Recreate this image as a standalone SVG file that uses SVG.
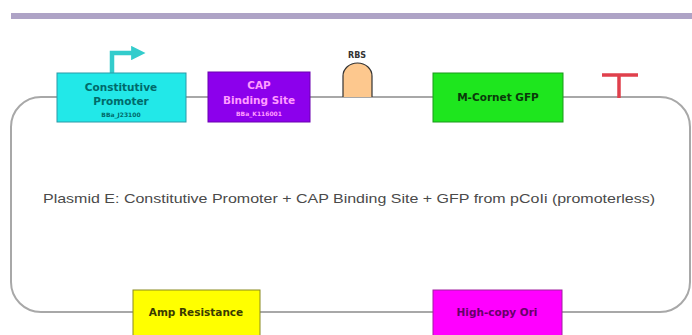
<svg xmlns="http://www.w3.org/2000/svg" width="692" height="335" viewBox="0 0 692 335">
<defs>
<style>
.box{stroke-width:1}
.lbl{font-family:"DejaVu Sans",sans-serif;font-weight:bold;font-size:10.5px;text-anchor:middle}
.sm{font-family:"DejaVu Sans",sans-serif;font-weight:bold;font-size:6px;text-anchor:middle}
.cap{font-family:"Liberation Sans",Arial,sans-serif;font-size:13.5px;fill:#4a4a4a;text-anchor:middle}
</style>
<marker id="ah" viewBox="0 0 10 10" refX="2" refY="5" markerWidth="3.2" markerHeight="3.2" orient="auto">
<path d="M0,0 L10,5 L0,10 z" fill="#33cccc"/>
</marker>
</defs>
<rect x="0" y="0" width="692" height="335" fill="#ffffff"/>
<rect x="11" y="13" width="681" height="6" fill="#aea3c6"/>
<g id="connectors">
<rect x="11" y="97" width="679" height="215" rx="30" ry="30" fill="none" stroke="#a8a8a8" stroke-width="2"/>
</g>
<g id="promoter">
<path d="M112,73 V53 H134" fill="none" stroke="#33cccc" stroke-width="4.5" marker-end="url(#ah)"/>
<rect class="box" x="57" y="73" width="129" height="49" fill="#22e8e8" stroke="#2a9aa8"/>
<text class="lbl" x="121" y="91" fill="#006a6a">Constitutive</text>
<text class="lbl" x="121" y="105" fill="#006a6a">Promoter</text>
<text class="sm" x="121" y="117" fill="#006a6a">BBa_J23100</text>
</g>
<g id="cap">
<rect class="box" x="208" y="72" width="102" height="50" fill="#8c00ec" stroke="#6a00b0"/>
<text class="lbl" x="259" y="89" fill="#ff9cff">CAP</text>
<text class="lbl" x="259" y="104" fill="#ff9cff">Binding Site</text>
<text class="sm" x="259" y="116" fill="#ff9cff">BBa_K116001</text>
</g>
<g id="rbs">
<path d="M343,97 V76 A14.5,13 0 0 1 372,76 V97" fill="#fdc88e" stroke="#333" stroke-width="1.2"/>
<text class="lbl" x="357" y="58" fill="#333" style="font-size:8px">RBS</text>
</g>
<g id="gfp">
<rect class="box" x="433" y="73" width="130" height="49" fill="#1ee61e" stroke="#1a9a1a"/>
<text class="lbl" x="498" y="101" fill="#0a3a0a">M-Cornet GFP</text>
</g>
<g id="terminator">
<path d="M602,75 H638 M619,75 V98" fill="none" stroke="#e0404c" stroke-width="3.5"/>
</g>
<g id="caption">
<text class="cap" x="349" y="203" textLength="612" lengthAdjust="spacingAndGlyphs">Plasmid E: Constitutive Promoter + CAP Binding Site + GFP from pCoIi (promoterless)</text>
</g>
<g id="amp">
<rect class="box" x="133" y="290" width="127" height="50" fill="#ffff00" stroke="#8a8a20"/>
<text class="lbl" x="196" y="316" fill="#3a3a00">Amp Resistance</text>
</g>
<g id="ori">
<rect class="box" x="433" y="290" width="129" height="50" fill="#ff00ff" stroke="#a020a0"/>
<text class="lbl" x="497" y="316" fill="#66006a">High-copy Ori</text>
</g>
</svg>
